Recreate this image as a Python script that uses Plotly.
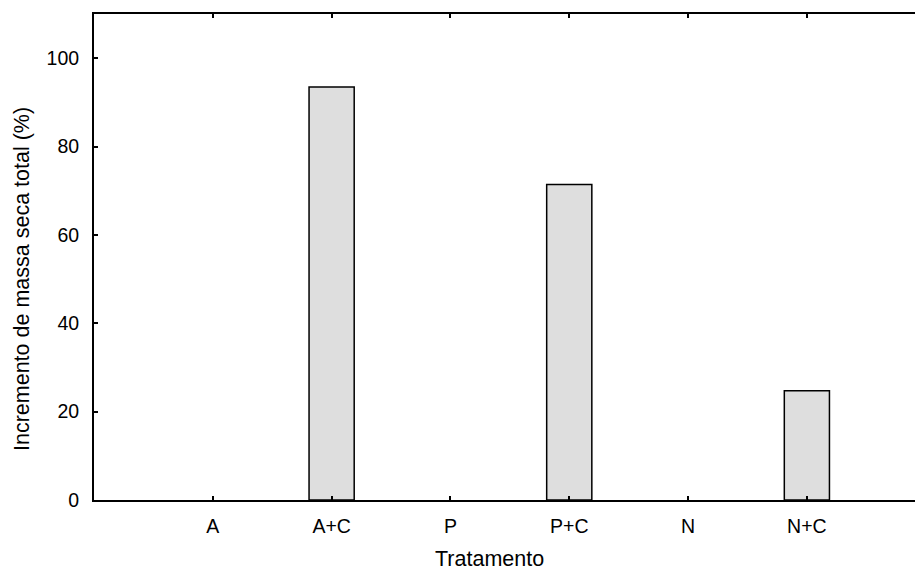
import plotly.graph_objects as go

categories = ["A", "A+C", "P", "P+C", "N", "N+C"]
values = [0, 93.5, 0, 71.4, 0, 24.7]
y_ticks = [0, 20, 40, 60, 80, 100]
x_title = "Tratamento"
y_title = "Incremento de massa seca total (%)"

# no outline for empty (zero) bars
line_widths = [1.5 if v > 0 else 0 for v in values]

fig = go.Figure()
fig.add_trace(go.Bar(
    x=list(range(len(categories))), y=values, width=0.38,
    marker=dict(color="#dedede", line=dict(color="black", width=line_widths)),
    showlegend=False,
))

tick_font = dict(family="Liberation Sans, Arial, sans-serif", size=19.5, color="black")
title_font = dict(family="Liberation Sans, Arial, sans-serif", size=21.5, color="black")
fig.update_layout(
    width=915, height=572,
    margin=dict(l=94, r=0, t=14, b=72),
    paper_bgcolor="white", plot_bgcolor="white",
    font=tick_font,
    xaxis=dict(
        tickmode="array", tickvals=list(range(len(categories))), ticktext=categories,
        range=[-1, 5.91], showline=True, linecolor="black", linewidth=2,
        mirror="ticks", ticks="inside", ticklen=4, tickwidth=2, tickcolor="black",
        showgrid=False, zeroline=False, ticklabelstandoff=8, tickfont=tick_font,
    ),
    yaxis=dict(
        range=[0, 110], tickmode="array", tickvals=y_ticks,
        showline=True, linecolor="black", linewidth=2,
        ticks="inside", ticklen=4, tickwidth=2, tickcolor="black",
        showgrid=False, zeroline=False, ticklabelstandoff=9, tickfont=tick_font,
    ),
    annotations=[
        dict(text=x_title, xref="paper", yref="paper", x=0.4823, y=0,
             xanchor="center", yanchor="middle", yshift=-59, showarrow=False,
             font=title_font),
        dict(text=y_title, xref="paper", yref="paper", x=0, y=0.4547,
             xanchor="center", yanchor="middle", xshift=-72, textangle=-90,
             showarrow=False, font=title_font),
    ],
)
fig.write_html("out.html")
